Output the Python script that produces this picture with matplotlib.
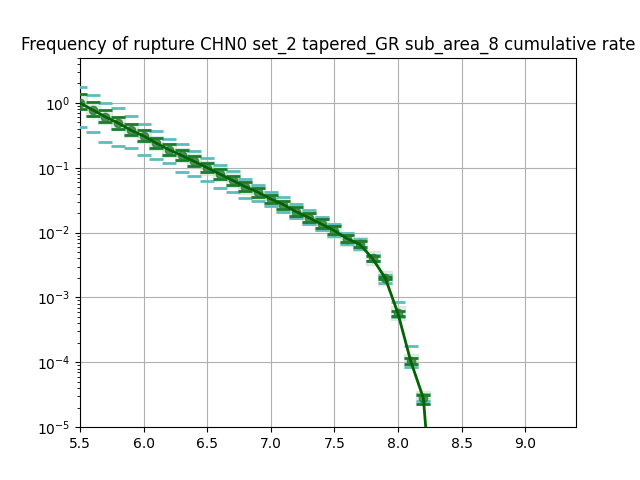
import matplotlib
matplotlib.use('Agg')
import matplotlib.pyplot as plt

mags = [5.5, 5.6, 5.7, 5.8, 5.9, 6.0, 6.1, 6.2, 6.3, 6.4, 6.5, 6.6, 6.7, 6.8,
        6.9, 7.0, 7.1, 7.2, 7.3, 7.4, 7.5, 7.6, 7.7, 7.8, 7.9, 8.0, 8.1, 8.2, 8.3]
rate = [1.0, 0.78, 0.61, 0.49, 0.38, 0.31, 0.24, 0.19, 0.155, 0.125, 0.10, 0.08,
        0.064, 0.051, 0.042, 0.033, 0.027, 0.021, 0.017, 0.0135, 0.0107, 0.0081,
        0.0066, 0.0040, 0.0020, 0.00057, 0.000105, 2.8e-5, 1e-7]
# dark green percentile bars (16th / 84th)
p_hi = [1.35, 1.05, 0.78, 0.60, 0.48, 0.38, 0.29, 0.23, 0.19, 0.15, 0.12, 0.096,
        0.076, 0.060, 0.049, 0.038, 0.031, 0.025, 0.020, 0.016, 0.0125, 0.0092,
        0.0074, 0.0044, 0.0021, 0.00062, 0.000115, 3.1e-5]
p_lo = [0.80, 0.62, 0.50, 0.40, 0.32, 0.26, 0.20, 0.16, 0.13, 0.105, 0.085, 0.068,
        0.055, 0.044, 0.036, 0.029, 0.023, 0.018, 0.0148, 0.0118, 0.0094, 0.0072,
        0.0059, 0.0037, 0.0019, 0.00052, 9.5e-5, 2.3e-5]
# teal bars (5th / 95th)
t_hi = [1.77, 1.33, 0.98, 0.85, 0.62, 0.47, 0.37, 0.28, 0.23, 0.18, 0.14, 0.11,
        0.088, 0.068, 0.055, 0.043, 0.035, 0.028, 0.022, 0.0175, 0.0135, 0.0098,
        0.0080, 0.0046, 0.0022, 0.00085, 0.00018, 3.3e-5]
t_lo = [0.43, 0.36, 0.25, 0.22, 0.20, 0.16, 0.135, 0.12, 0.085, 0.075, 0.062,
        0.048, 0.042, 0.034, 0.031, 0.026, 0.021, 0.017, 0.0135, 0.011, 0.0088,
        0.0068, 0.0055, 0.0036, 0.0017, 0.00050, 8.5e-5, 2.5e-5]

fig, ax = plt.subplots(figsize=(6.4, 4.8), dpi=100)
n = len(p_hi)
ax.plot(mags[:n], rate[:n], 's', color='#b8d8c0', markersize=10, alpha=0.4, zorder=2)
ax.plot(mags[:n], t_hi, '_', color='#5fbcbc', markersize=10, mew=2, zorder=3)
ax.plot(mags[:n], t_lo, '_', color='#5fbcbc', markersize=10, mew=2, zorder=3)
ax.plot(mags[:n], p_hi, '_', color='#1a7a2a', markersize=10, mew=2, zorder=4)
ax.plot(mags[:n], p_lo, '_', color='#1a7a2a', markersize=10, mew=2, zorder=4)
ax.plot(mags[:n], rate[:n], 'o', color='#2a7a3a', markersize=6, alpha=0.8, zorder=5)
ax.plot(mags, rate, '-', color='darkgreen', linewidth=2, zorder=6)

ax.set_yscale('log')
ax.set_xlim(5.5, 9.4)
ax.set_ylim(1e-5, 5)
ax.set_xticks([5.5, 6.0, 6.5, 7.0, 7.5, 8.0, 8.5, 9.0])
ax.grid(True, color='#b0b0b0')
ax.set_axisbelow(True)
ax.set_title('Frequency of rupture CHN0 set_2 tapered_GR sub_area_8 cumulative rate')

plt.savefig('out.png', dpi=100)
